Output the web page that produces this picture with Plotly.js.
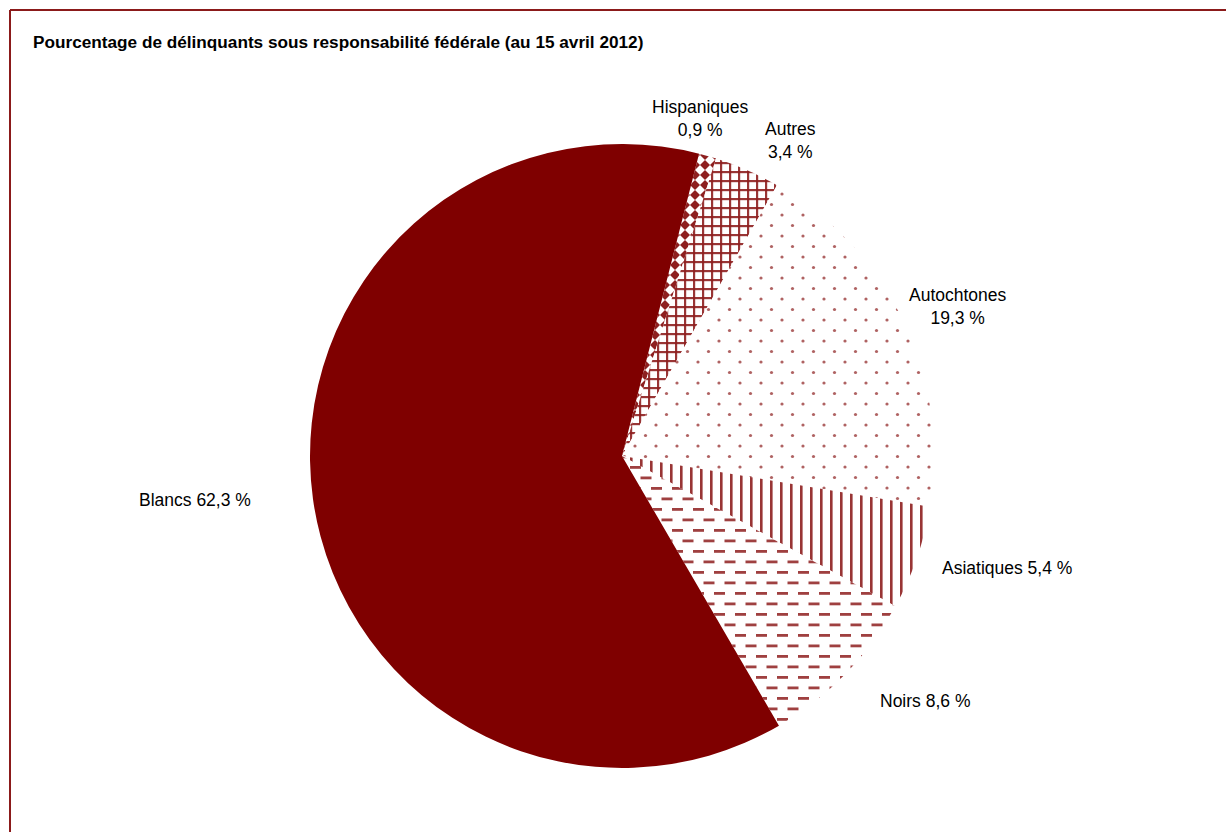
<!DOCTYPE html>
<html>
<head>
<meta charset="utf-8">
<script src="https://cdn.plot.ly/plotly-3.0.1.min.js"></script>
<style>
  html, body { margin: 0; padding: 0; background: #fff; }
  #chart { width: 1226px; height: 832px; }
</style>
</head>
<body>
<div id="chart"></div>
<script>
// ---- data ----
const categories = ['Hispaniques', 'Autres', 'Autochtones', 'Asiatiques', 'Noirs', 'Blancs'];
const percentages = [0.9, 3.4, 19.3, 5.4, 8.6, 62.3];
const chartTitle = 'Pourcentage de délinquants sous responsabilité fédérale (au 15 avril 2012)';

// ---- styling / layout (not data) ----
const MAROON = '#7f0000';
const PAT = '#8e1f1f';
const patternKinds = ['diamond', 'grid', 'dots', 'vlines', 'dashes', null];
const labelLayout = [
  {x: 700, y: 118, sep: '<br>'},
  {x: 790, y: 140, sep: '<br>'},
  {x: 958, y: 306, sep: '<br>'},
  {x: 1007, y: 568, sep: ' '},
  {x: 925, y: 701, sep: ' '},
  {x: 195, y: 500, sep: ' '}
];
const W = 1226, H = 832;
const cx = 622, cy = 456, R = 312;

const fmt = v => v.toFixed(1).replace('.', ',') + ' %';

const trace = {
  type: 'pie',
  labels: categories,
  values: percentages,
  sort: false,
  direction: 'clockwise',
  rotation: 14.3,
  textinfo: 'none',
  hoverinfo: 'none',
  marker: {
    colors: categories.map((c, i) => patternKinds[i] ? '#ffffff' : MAROON),
    line: {width: 0}
  },
  domain: {
    x: [(cx - R) / W, (cx + R) / W],
    y: [(H - cy - R) / H, (H - cy + R) / H]
  },
  showlegend: false
};

const FONT = '"Liberation Sans Narrow", "Arial Narrow", "Liberation Sans", Arial, sans-serif';
const labelFont = {family: FONT, size: 17.5, color: '#000'};

const annotations = categories.map((c, i) => ({
  xref: 'paper', yref: 'paper',
  x: labelLayout[i].x / W, y: 1 - labelLayout[i].y / H,
  xanchor: 'center', yanchor: 'middle',
  text: labelLayout[i].sep === '<br>'
    ? c + '<br><span style="line-height:1">' + fmt(percentages[i]) + '</span>'
    : c + ' ' + fmt(percentages[i]),
  showarrow: false,
  align: 'center',
  font: labelFont
}));

const layout = {
  width: W, height: H,
  margin: {l: 0, r: 0, t: 0, b: 0},
  paper_bgcolor: '#fff',
  title: {
    text: '<b>' + chartTitle + '</b>',
    xref: 'container', yref: 'container',
    x: 33 / W, xanchor: 'left',
    y: 1 - 42 / H, yanchor: 'middle',
    font: {family: FONT, size: 17.2, color: '#000'}
  },
  annotations: annotations,
  shapes: [
    {type: 'line', xref: 'paper', yref: 'paper', x0: 10 / W, x1: 10 / W, y0: 0, y1: 1 - 10 / H, line: {color: '#8b1a1a', width: 2}},
    {type: 'line', xref: 'paper', yref: 'paper', x0: 10 / W, x1: 1, y0: 1 - 10 / H, y1: 1 - 10 / H, line: {color: '#8b1a1a', width: 2}}
  ]
};

const tiles = {
  diamond: {w: 10, h: 10, body: `<rect width="10" height="10" fill="#fff"/><path d="M5,0L10,5L5,10L0,5Z" fill="${PAT}"/>`},
  grid: {w: 9, h: 9, body: `<rect width="9" height="9" fill="#fff"/><rect x="0" y="0" width="9" height="2.2" fill="${PAT}" fill-opacity="0.9"/><rect x="0" y="0" width="2.2" height="9" fill="${PAT}" fill-opacity="0.9"/>`},
  dots: {w: 21, h: 21, body: `<rect width="21" height="21" fill="#fff"/><circle cx="5" cy="5" r="1.6" fill="${PAT}" fill-opacity="0.7"/><circle cx="15.5" cy="15.5" r="1.6" fill="${PAT}" fill-opacity="0.7"/>`},
  vlines: {w: 10, h: 10, body: `<rect width="10" height="10" fill="#fff"/><rect x="0" y="0" width="2.6" height="10" fill="${PAT}" fill-opacity="0.9"/>`},
  dashes: {w: 21, h: 21, body: `<rect width="21" height="21" fill="#fff"/><rect x="0" y="4" width="11" height="2.8" fill="${PAT}" fill-opacity="0.85"/><rect x="10.5" y="14.5" width="11" height="2.8" fill="${PAT}" fill-opacity="0.85"/><rect x="-10.5" y="14.5" width="11" height="2.8" fill="${PAT}" fill-opacity="0.85"/>`}
};

function applyPatterns(gd) {
  const NS = 'http://www.w3.org/2000/svg';
  const svg = gd.querySelector('svg.main-svg');
  let defs = svg.querySelector('defs');
  if (!defs) { defs = document.createElementNS(NS, 'defs'); svg.insertBefore(defs, svg.firstChild); }
  const paths = gd.querySelectorAll('.pielayer .slice path.surface');
  paths.forEach((p, i) => {
    const kind = patternKinds[i];
    if (!kind) return;
    const t = tiles[kind];
    const id = 'custpat-' + i;
    const pat = document.createElementNS(NS, 'pattern');
    pat.setAttribute('id', id);
    pat.setAttribute('patternUnits', 'userSpaceOnUse');
    pat.setAttribute('width', t.w);
    pat.setAttribute('height', t.h);
    pat.innerHTML = t.body;
    defs.appendChild(pat);
    p.style.fill = 'url(#' + id + ')';
  });
}

const gd = document.getElementById('chart');
Plotly.newPlot(gd, [trace], layout, {staticPlot: true, displayModeBar: false}).then(applyPatterns);
</script>
</body>
</html>
